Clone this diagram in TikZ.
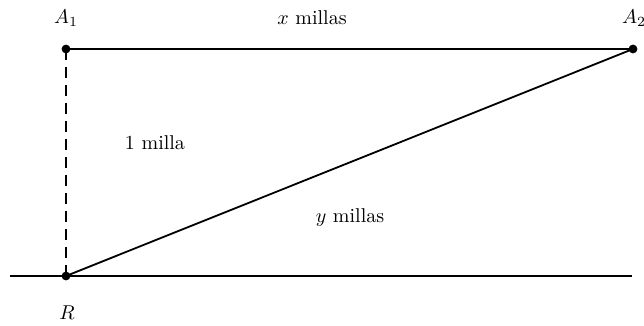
\documentclass[tikz,border=0pt]{standalone}
\begin{document}
\begin{tikzpicture}[x=0.5pt,y=-0.5pt,
  ln/.style={line width=0.9pt},
  dot/.style={circle,fill=black,inner sep=0pt,minimum size=4.4pt},
  lbl/.style={inner sep=0pt}]
\useasboundingbox (0,0) rectangle (644,326);
\node[dot] (A1) at (66,49) {};
\node[dot] (A2) at (633,49) {};
\node[dot] (R) at (66,276) {};
\coordinate (G1) at (10,276);
\coordinate (G2) at (632,276);
\draw[ln] (G1) -- (G2);
\draw[ln] (A1.center) -- (A2.center);
\draw[ln] (R.center) -- (A2.center);
\draw[ln,dash pattern=on 5.5pt off 3.5pt] (A1.center) -- (R.center);
\node[lbl] (tA1) at (66,18) {$A_1$};
\node[lbl] (tA2) at (634,18) {$A_2$};
\node[lbl] (tR) at (67,313) {$R$};
\node[lbl] (tx) at (312,18) {$x$ millas};
\node[lbl] (t1) at (155,143) {1 milla};
\node[lbl] (ty) at (350,218) {$y$ millas};
\end{tikzpicture}
\end{document}
